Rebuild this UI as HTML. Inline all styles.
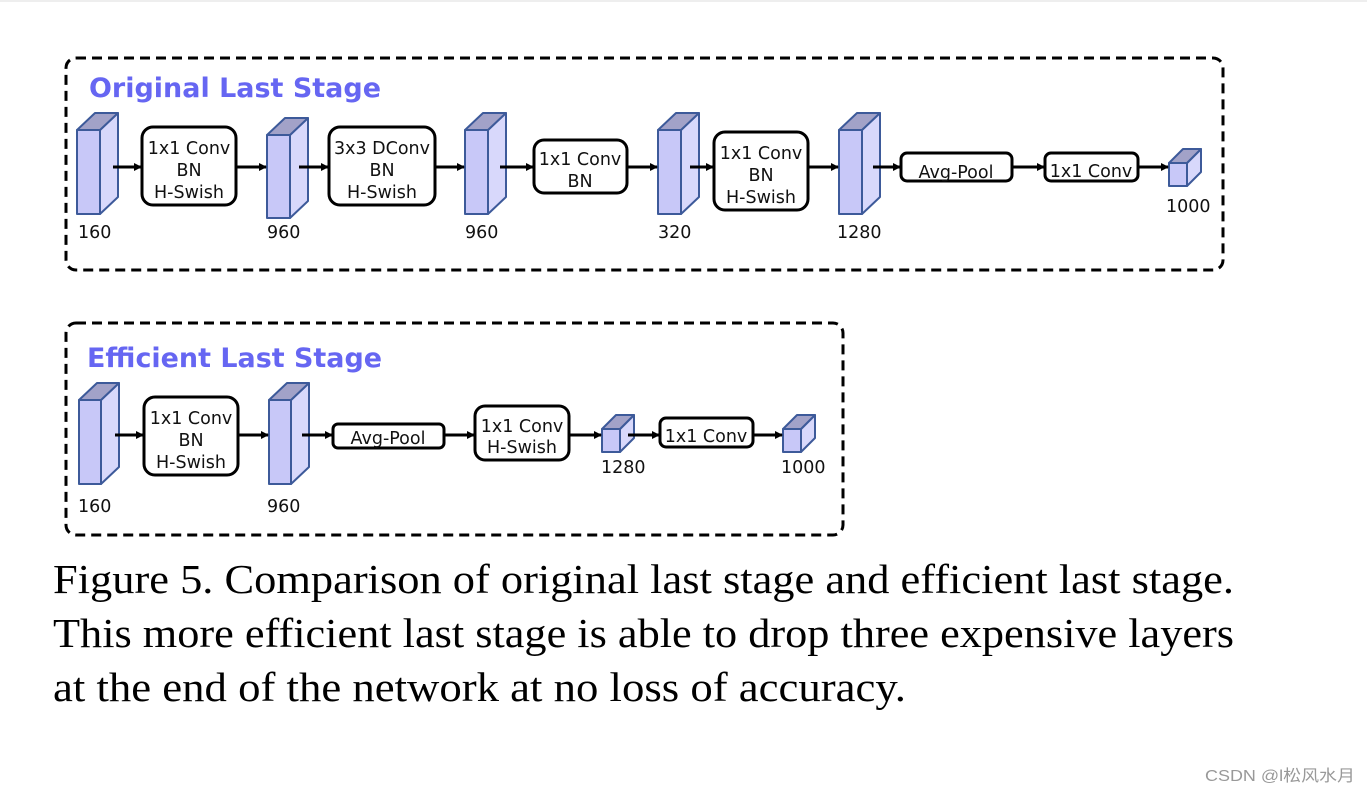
<!DOCTYPE html>
<html><head><meta charset="utf-8"><style>
html,body{margin:0;padding:0;background:#fff;}
svg{display:block;}
.t{font-family:"DejaVu Sans",sans-serif;font-size:17.5px;fill:#111;}
.b{fill:#fff;stroke:#000;stroke-width:3;}
.ttl{font-family:"DejaVu Sans",sans-serif;font-weight:bold;font-size:27px;fill:#6666f2;}
.cap{font-family:"Liberation Serif",serif;font-size:41px;fill:#000;}
</style></head><body>
<svg width="1367" height="793" viewBox="0 0 1367 793" xmlns="http://www.w3.org/2000/svg">
<defs>
<marker id="a" markerWidth="8" markerHeight="8" refX="7" refY="4" orient="auto" markerUnits="userSpaceOnUse"><path d="M0,0 L8,4 L0,8 z" fill="#000"/></marker>
</defs>
<rect x="0" y="0" width="1367" height="2" fill="#eee"/>
<rect x="66" y="58" width="1157" height="212" rx="10" fill="none" stroke="#000" stroke-width="3" stroke-dasharray="10,6"/>
<text class="ttl" x="89" y="97" textLength="292" lengthAdjust="spacingAndGlyphs">Original Last Stage</text>
<g stroke="#3d5a9a" stroke-width="2" stroke-linejoin="round">
<polygon points="100,130 118,113 118,197 100,214" fill="#d8d8fb"/><polygon points="77,130 95,113 118,113 100,130" fill="#a2a2c8"/><rect x="77" y="130" width="23" height="84" fill="#c8c8f8"/>
<polygon points="290,135 308,118 308,201 290,218" fill="#d8d8fb"/><polygon points="267,135 285,118 308,118 290,135" fill="#a2a2c8"/><rect x="267" y="135" width="23" height="83" fill="#c8c8f8"/>
<polygon points="488,130 506,113 506,197 488,214" fill="#d8d8fb"/><polygon points="465,130 483,113 506,113 488,130" fill="#a2a2c8"/><rect x="465" y="130" width="23" height="84" fill="#c8c8f8"/>
<polygon points="681,130 699,113 699,197 681,214" fill="#d8d8fb"/><polygon points="658,130 676,113 699,113 681,130" fill="#a2a2c8"/><rect x="658" y="130" width="23" height="84" fill="#c8c8f8"/>
<polygon points="862,130 880,113 880,197 862,214" fill="#d8d8fb"/><polygon points="839,130 857,113 880,113 862,130" fill="#a2a2c8"/><rect x="839" y="130" width="23" height="84" fill="#c8c8f8"/>
<polygon points="1187,163 1201,149 1201,172 1187,186" fill="#d8d8fb"/><polygon points="1169,163 1183,149 1201,149 1187,163" fill="#a2a2c8"/><rect x="1169" y="163" width="18" height="23" fill="#c8c8f8"/>
<polygon points="101,400 119,383 119,467 101,484" fill="#d8d8fb"/><polygon points="79,400 97,383 119,383 101,400" fill="#a2a2c8"/><rect x="79" y="400" width="22" height="84" fill="#c8c8f8"/>
<polygon points="291,400 309,383 309,467 291,484" fill="#d8d8fb"/><polygon points="269,400 287,383 309,383 291,400" fill="#a2a2c8"/><rect x="269" y="400" width="22" height="84" fill="#c8c8f8"/>
<polygon points="620,429 634,415 634,438 620,452" fill="#d8d8fb"/><polygon points="602,429 616,415 634,415 620,429" fill="#a2a2c8"/><rect x="602" y="429" width="18" height="23" fill="#c8c8f8"/>
<polygon points="801,429 815,415 815,438 801,452" fill="#d8d8fb"/><polygon points="783,429 797,415 815,415 801,429" fill="#a2a2c8"/><rect x="783" y="429" width="18" height="23" fill="#c8c8f8"/>
</g>
<rect class="b" x="142" y="127" width="94" height="78" rx="11"/>
<rect class="b" x="329" y="127" width="106" height="78" rx="11"/>
<rect class="b" x="534" y="140" width="93" height="53" rx="10"/>
<rect class="b" x="714" y="132" width="94" height="78" rx="11"/>
<rect class="b" x="901" y="153" width="111" height="28" rx="6"/>
<rect class="b" x="1045" y="153" width="93" height="28" rx="6"/>
<g stroke="#000" stroke-width="3" marker-end="url(#a)">
<line x1="113" y1="167" x2="141" y2="167"/>
<line x1="237" y1="167" x2="266" y2="167"/>
<line x1="299" y1="167" x2="328" y2="167"/>
<line x1="436" y1="167" x2="464" y2="167"/>
<line x1="500" y1="167" x2="533" y2="167"/>
<line x1="628" y1="167" x2="657" y2="167"/>
<line x1="690" y1="167" x2="713" y2="167"/>
<line x1="809" y1="167" x2="838" y2="167"/>
<line x1="873" y1="167" x2="900" y2="167"/>
<line x1="1013" y1="167" x2="1044" y2="167"/>
<line x1="1139" y1="167" x2="1168" y2="167"/>
</g>
<g class="t" text-anchor="middle">
<text x="189" y="154">1x1 Conv</text><text x="189" y="176">BN</text><text x="189" y="198">H-Swish</text>
<text x="382" y="154">3x3 DConv</text><text x="382" y="176">BN</text><text x="382" y="198">H-Swish</text>
<text x="580" y="165">1x1 Conv</text><text x="580" y="187">BN</text>
<text x="761" y="159">1x1 Conv</text><text x="761" y="181">BN</text><text x="761" y="203">H-Swish</text>
<text x="956" y="178">Avg-Pool</text>
<text x="1091" y="177">1x1 Conv</text>
</g>
<g class="t">
<text x="78" y="238">160</text><text x="267" y="238">960</text><text x="465" y="238">960</text><text x="658" y="238">320</text><text x="837" y="238">1280</text><text x="1166" y="212">1000</text>
</g>
<rect x="66" y="323" width="777" height="212" rx="10" fill="none" stroke="#000" stroke-width="3" stroke-dasharray="10,6"/>
<text class="ttl" x="87" y="367" textLength="295" lengthAdjust="spacingAndGlyphs">Efficient Last Stage</text>
<rect class="b" x="144" y="397" width="94" height="78" rx="11"/>
<rect class="b" x="333" y="424" width="111" height="24" rx="5"/>
<rect class="b" x="475" y="406" width="94" height="54" rx="10"/>
<rect class="b" x="660" y="418" width="93" height="29" rx="6"/>
<g stroke="#000" stroke-width="3" marker-end="url(#a)">
<line x1="115" y1="435" x2="143" y2="435"/>
<line x1="239" y1="435" x2="268" y2="435"/>
<line x1="302" y1="435" x2="332" y2="435"/>
<line x1="445" y1="435" x2="474" y2="435"/>
<line x1="570" y1="435" x2="601" y2="435"/>
<line x1="628" y1="435" x2="659" y2="435"/>
<line x1="754" y1="435" x2="782" y2="435"/>
</g>
<g class="t" text-anchor="middle">
<text x="191" y="424">1x1 Conv</text><text x="191" y="446">BN</text><text x="191" y="468">H-Swish</text>
<text x="388" y="444">Avg-Pool</text>
<text x="522" y="432">1x1 Conv</text><text x="522" y="453">H-Swish</text>
<text x="706" y="442">1x1 Conv</text>
</g>
<g class="t">
<text x="78" y="512">160</text><text x="267" y="512">960</text><text x="601" y="473">1280</text><text x="781" y="473">1000</text>
</g>
<text class="cap" x="53" y="593" textLength="1181" lengthAdjust="spacingAndGlyphs">Figure 5. Comparison of original last stage and efficient last stage.</text>
<text class="cap" x="53" y="647" textLength="1181" lengthAdjust="spacingAndGlyphs">This more efficient last stage is able to drop three expensive layers</text>
<text class="cap" x="53" y="701" textLength="853" lengthAdjust="spacingAndGlyphs">at the end of the network at no loss of accuracy.</text>
<text x="1205" y="781" textLength="150" lengthAdjust="spacingAndGlyphs" style="font-family:'Liberation Sans','Noto Sans CJK SC',sans-serif;font-size:16px;fill:#999">CSDN @l松风水月</text>
</svg>
</body></html>
